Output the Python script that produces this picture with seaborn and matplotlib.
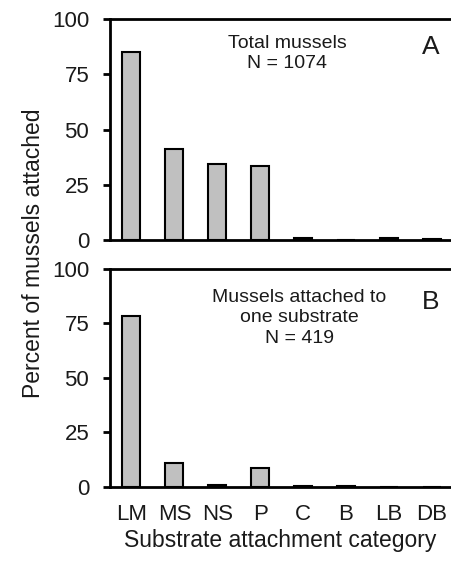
import matplotlib
matplotlib.use('Agg')
import matplotlib.pyplot as plt
import seaborn as sns
import pandas as pd

categories = ['LM', 'MS', 'NS', 'P', 'C', 'B', 'LB', 'DB']
total_pct = [85, 41, 34.5, 33.5, 1, 0, 1, 0.5]
single_pct = [78.5, 11, 1, 8.8, 0.5, 0.3, 0, 0]
y_ticks = [0, 25, 50, 75, 100]

sns.set_style('white')
plt.rcParams['font.family'] = ['Liberation Sans', 'DejaVu Sans']
plt.rcParams['font.size'] = 16
for key in ['text.color', 'axes.labelcolor', 'xtick.labelcolor', 'ytick.labelcolor']:
    plt.rcParams[key] = '#1a1a1a'

fig = plt.figure(figsize=(4.51, 5.62), dpi=100)
ax_top = fig.add_axes([0.244, 0.573, 0.756, 0.393])
ax_bot = fig.add_axes([0.244, 0.1335, 0.756, 0.388])

# note text, its x centre and the top of the text block (axes fraction)
panels = [
    (ax_top, total_pct, 'Total mussels\nN = 1074', 0.52, 0.93, 'A', 0.875),
    (ax_bot, single_pct, 'Mussels attached to\none substrate\nN = 419', 0.555, 0.91, 'B', 0.846),
]

for ax, vals, note, nx, ny, letter, ly in panels:
    df = pd.DataFrame({'cat': categories, 'pct': vals})
    sns.barplot(data=df, x='cat', y='pct', ax=ax, color='#c0c0c0',
                saturation=1, edgecolor='black', linewidth=1.5, width=0.42)
    ax.set_ylim(0, 100)
    ax.set_xlim(-0.5, 7.45)
    ax.set_yticks(y_ticks)
    ax.set_ylabel('')
    ax.set_xlabel('')
    ax.spines['right'].set_visible(False)
    for s in ['left', 'bottom', 'top']:
        ax.spines[s].set_linewidth(2)
        ax.spines[s].set_color('black')
    ax.tick_params(axis='y', direction='out', length=5, width=2, color='black',
                   left=True, pad=10, labelsize=16)
    ax.tick_params(axis='x', length=0, pad=12, labelsize=16)
    ax.text(nx, ny, note, transform=ax.transAxes, ha='center', va='top',
            fontsize=14, linespacing=1.3)
    ax.text(0.94, ly, letter, transform=ax.transAxes, ha='center', va='center',
            fontsize=19)

ax_top.set_xticklabels([])
ax_bot.set_xlabel('Substrate attachment category', fontsize=16.5, labelpad=3)
fig.text(0.075, 0.55, 'Percent of mussels attached', rotation=90,
         ha='center', va='center', fontsize=16.5)

fig.savefig('out.png', dpi=100, facecolor='white')
